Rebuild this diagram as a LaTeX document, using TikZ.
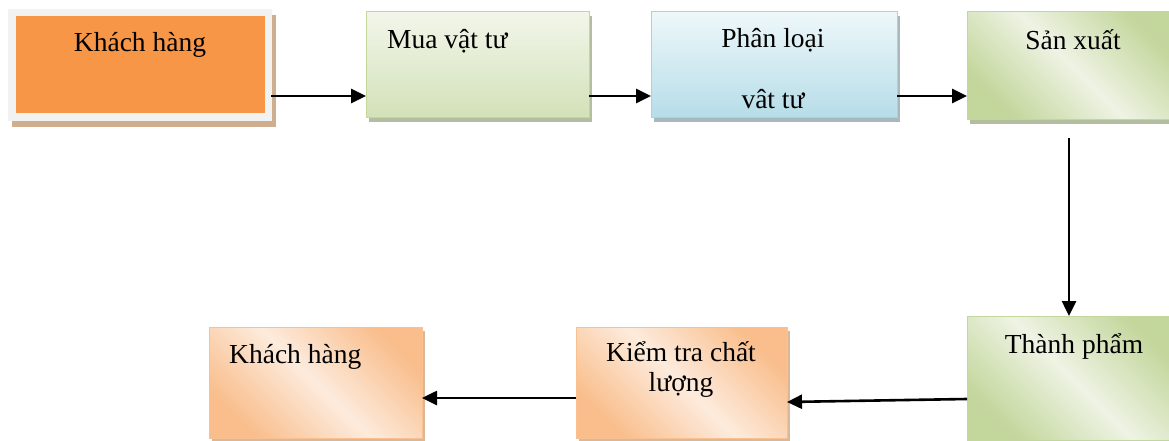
\documentclass[tikz,border=0pt]{standalone}
\usepackage{fontspec}
\setmainfont{Liberation Serif}
\usetikzlibrary{arrows.meta,shadows}
\definecolor{orA}{HTML}{F79646}
\definecolor{frameG}{HTML}{F2F2F2}
\definecolor{shTan}{HTML}{CFAE90}
\definecolor{grB}{HTML}{C3D69B}
\definecolor{grD}{HTML}{C3D69B}
\definecolor{grL}{HTML}{EEF3E4}
\definecolor{grTop}{HTML}{F2F6EA}
\definecolor{grBot}{HTML}{D3E1B8}
\definecolor{shGr}{HTML}{B3BEA0}
\definecolor{blB}{HTML}{A5D5E2}
\definecolor{blTop}{HTML}{EEF7FA}
\definecolor{blBot}{HTML}{B6DDE8}
\definecolor{shBl}{HTML}{A8B8BC}
\definecolor{orB}{HTML}{FAC090}
\definecolor{orD}{HTML}{F9BE8C}
\definecolor{orL}{HTML}{FDEBDD}
\definecolor{shOr}{HTML}{D9B89A}
\begin{document}
\begin{tikzpicture}[x=1pt,y=-1pt,
  box/.style={rectangle, inner sep=0pt, outer sep=0pt, anchor=north west, line width=1pt},
  shad/.style={general shadow={shadow xshift=3pt, shadow yshift=-4pt, fill=#1}},
  greenbox/.style={box, draw=grB, shad=shGr, top color=grD, bottom color=grD, middle color=grL, shading angle=-45},
  orangebox/.style={box, draw=orB, shad=shOr, top color=orD, bottom color=orD, middle color=orL, shading angle=-45},
  txt/.style={font=\fontsize{27.5}{31}\selectfont, inner sep=0pt, anchor=base},
  arr/.style={line width=2.6pt, -{Triangle[length=15pt,width=14pt]}}]
\useasboundingbox (0,0) rectangle (1169,441);
\clip (0,0) rectangle (1169,441);
\fill[white] (0,0) rectangle (1169,441);

% top row
\node[box, draw=frameG, line width=7.5pt, fill=orA,
  general shadow={shadow xshift=4pt, shadow yshift=-6pt, fill=shTan, draw=shTan},
  minimum width=256.5pt, minimum height=104.5pt] (k1) at (11.75,12.75) {};
\node[box, draw=grB, shad=shGr, top color=grTop, bottom color=grBot,
  minimum width=223pt, minimum height=106pt] (mua) at (366,12) {};
\node[box, draw=blB, shad=shBl, top color=blTop, bottom color=blBot,
  minimum width=246pt, minimum height=106pt] (phan) at (651,12) {};
\node[greenbox, minimum width=210pt, minimum height=108pt] (sx) at (967,12) {};

% bottom row
\node[greenbox, minimum width=210pt, minimum height=124pt] (tp) at (967,316) {};
\node[orangebox, minimum width=211pt, minimum height=111pt] (kt) at (576,327) {};
\node[orangebox, minimum width=213pt, minimum height=111pt] (kh2) at (209,327) {};

% texts
\node[txt] (t1) at (140,52) {Khách hàng};
\node[txt, anchor=base west] (t2) at (387,49) {Mua vật tư};
\node[txt] (t3) at (773,48) {Phân loại};
\node[txt] (t4) at (773,109) {vât tư};
\node[txt] (t5) at (1073,50) {Sản xuất};
\node[txt] (t6) at (1074,353) {Thành phẩm};
\node[txt] (t7) at (681,361) {Kiểm tra chất};
\node[txt] (t8) at (681,391) {lượng};
\node[txt, anchor=base west] (t9) at (229,363) {Khách hàng};

% connectors
\draw[arr] ([xshift=3pt,yshift=-31pt]k1.east) -- ([yshift=-31pt]mua.west);
\draw[arr] ([yshift=-31pt]mua.east) -- ([yshift=-31pt]phan.west);
\draw[arr] ([yshift=-31pt]phan.east) -- ([yshift=-30pt]sx.west);
\draw[arr] ([xshift=-3pt,yshift=-18pt]sx.south) -- ([xshift=-3pt]tp.north);
\draw[arr] ([yshift=-21pt]tp.west) -- ([yshift=-19.5pt]kt.east);
\draw[arr] ([yshift=-15.5pt]kt.west) -- ([yshift=-15.5pt]kh2.east);
\end{tikzpicture}
\end{document}
